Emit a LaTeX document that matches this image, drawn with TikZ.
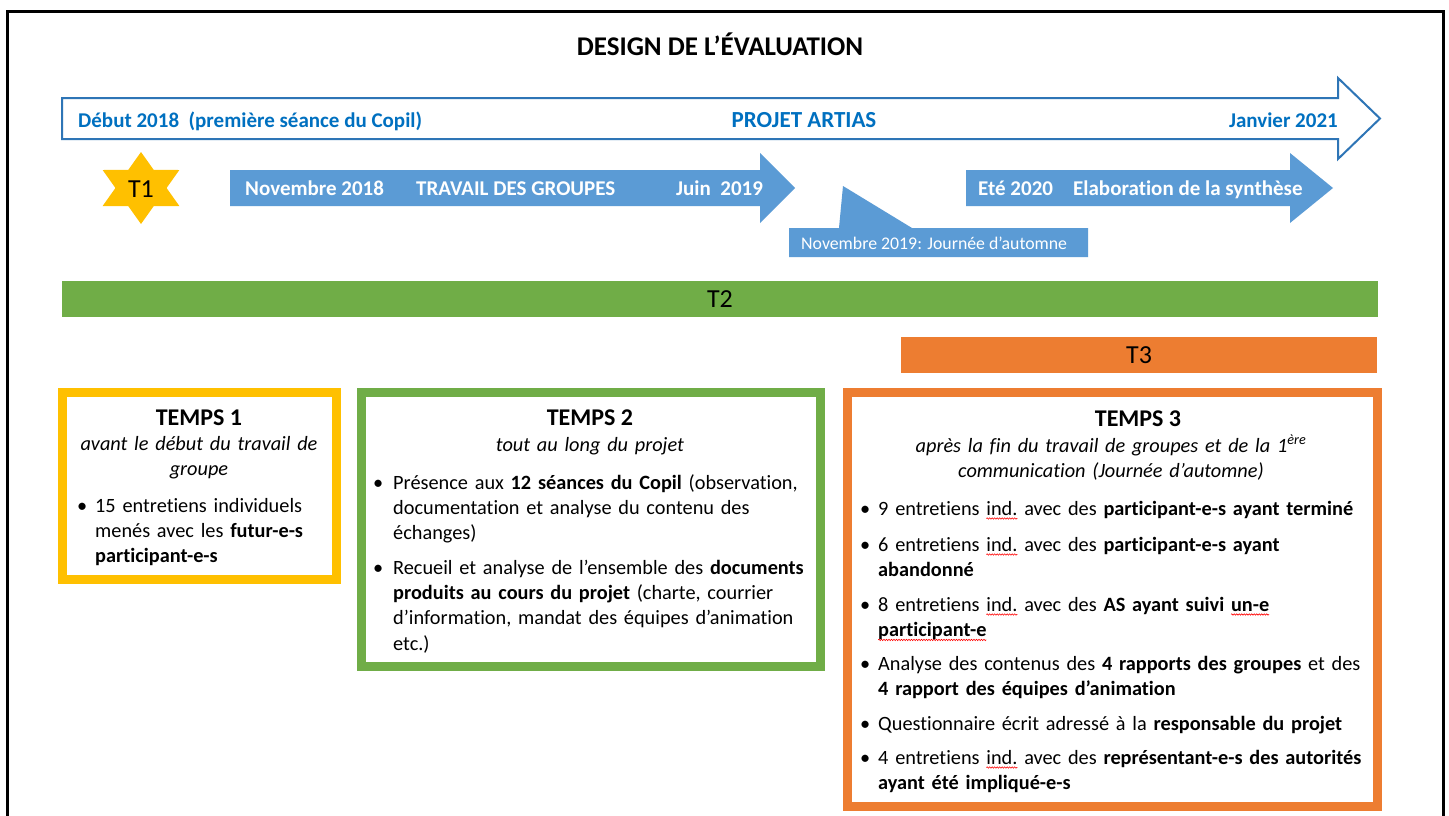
\documentclass[tikz,border=0pt]{standalone}
\usepackage{fontspec}
\setmainfont{Carlito}[Ligatures=NoCommon]
\usetikzlibrary{decorations.pathmorphing}
\definecolor{cblue}{HTML}{5B9BD5}
\definecolor{dblue}{HTML}{0070C0}
\definecolor{oblue}{HTML}{2E75B6}
\definecolor{cgold}{HTML}{FFC000}
\definecolor{cgreen}{HTML}{70AD47}
\definecolor{corange}{HTML}{ED7D31}
\newcommand\fs[2]{\fontsize{#1}{#2}\selectfont}
\newsavebox\splbox
\newcommand\spl[1]{\sbox\splbox{#1}\tikz[overlay, baseline=0pt]\draw[red, line width=0.6pt, decorate, decoration={snake, amplitude=0.7pt, segment length=2.5pt}] (0pt,-3.5pt) -- (\wd\splbox,-3.5pt);\usebox\splbox}
\begin{document}
\begin{tikzpicture}[x=1pt,y=-1pt,
  lbl/.style={inner sep=0pt, anchor=base west},
  ctr/.style={inner sep=0pt, anchor=base},
  body/.style={lbl, font=\fs{20.3}{25.4}, align=left, text width=540pt},
  bul/.style={lbl, font=\fs{20.3}{25.4}},
  ttl/.style={ctr, font=\bfseries\fs{24}{28}},
  sub/.style={ctr, font=\itshape\fs{20.3}{25.4}, align=center, text width=560pt},
  tlab/.style={inner sep=0pt, font=\fs{26}{30}},
  arrtxt/.style={lbl, white, font=\bfseries\fs{21}{25}},
  toptxt/.style={inner sep=0pt, dblue, font=\bfseries\fs{21}{25}},
  frame/.style={line width=9pt}
]
\useasboundingbox (0,0) rectangle (1449,816);
\fill[white] (0,0) rectangle (1449,816);
\draw[line width=3pt] (7.5,818) -- (7.5,11.5) -- (1443,11.5) -- (1443,818);

% title
\node[ctr, font=\bfseries\fs{27}{31}] (title) at (720,56) {DESIGN DE L’ÉVALUATION};

% big outline arrow
\draw[oblue, line width=2pt, fill=white, line join=miter]
  (62,98) -- (1338,98) -- (1338,78) -- (1380,118.5) -- (1338,159) -- (1338,139) -- (62,139) -- cycle;
\node[toptxt, anchor=base west] (debut) at (78,127) {Début 2018\ \ (première séance du Copil)};
\node[toptxt, anchor=base, font=\bfseries\fs{23}{27}] (artias) at (804,127) {PROJET ARTIAS};
\node[toptxt, anchor=base east] (janv) at (1338,127) {Janvier 2021};

% star T1
\begin{scope}[shift={(141,188)}, xscale=1.23]
\fill[cgold] (90:36) -- (60:20.8) -- (30:36) -- (0:20.8) -- (-30:36) -- (-60:20.8)
  -- (-90:36) -- (-120:20.8) -- (-150:36) -- (180:20.8) -- (150:36) -- (120:20.8) -- cycle;
\end{scope}
\node[tlab] (t1) at (141,189) {T1};

% blue arrow 1
\fill[cblue] (230,170) -- (760,170) -- (760,153) -- (795,188) -- (760,223) -- (760,206) -- (230,206) -- cycle;
\node[arrtxt] (nov18) at (245,195) {Novembre 2018};
\node[arrtxt] (trav) at (416,195) {TRAVAIL DES GROUPES};
\node[arrtxt] (juin) at (676,195) {Juin\ \ 2019};

% blue arrow 2
\fill[cblue] (966,170) -- (1290,170) -- (1290,153) -- (1333,188) -- (1290,223) -- (1290,206) -- (966,206) -- cycle;
\node[arrtxt] (ete) at (978,195) {Eté 2020};
\node[arrtxt] (elab) at (1073,195) {Elaboration de la synthèse};

% callout
\fill[cblue] (789,228) -- (839,228) -- (843,186) -- (912,228) -- (1088,228) -- (1088,257) -- (789,257) -- cycle;
\node[lbl, white, font=\fs{17.8}{21}] (nov19) at (801,249) {Novembre 2019: Journée d’automne};

% T2 / T3 bars
\fill[cgreen] (62,281) rectangle (1378,317);
\node[tlab] (t2) at (720,299) {T2};
\fill[corange] (901,337) rectangle (1377,373);
\node[tlab] (t3) at (1139,355) {T3};

% frames
\draw[cgold, frame] (62,392.5) rectangle (336,579.5);
\draw[cgreen, frame] (361.5,392.5) rectangle (820,666.5);
\draw[corange, frame] (847.5,392.5) rectangle (1377.5,806.5);

% box 1
\node[ttl] (temps1) at (199,425) {TEMPS 1};
\node[sub] (sub1) at (199,450) {avant le début du travail de\\ groupe};
\node[bul] (b11) at (77,512) {•};
\node[body] (i11) at (95,512) {15 entretiens individuels\\ menés avec les \textbf{futur-e-s}\\ \textbf{participant-e-s}};

% box 2
\node[ttl] (temps2) at (590,425) {TEMPS 2};
\node[sub] (sub2) at (590,451) {tout au long du projet};
\node[bul] (b21) at (373,489) {•};
\node[body] (i21) at (393,489) {Présence aux \textbf{12 séances du Copil} (observation,\\ documentation et analyse du contenu des\\ échanges)};
\node[bul] (b22) at (373,574) {•};
\node[body] (i22) at (393,574) {Recueil et analyse de l’ensemble des \textbf{documents}\\ \textbf{produits au cours du projet} (charte, courrier\\ d’information, mandat des équipes d’animation\\ etc.)};

% box 3
\node[ttl] (temps3) at (1138,426) {TEMPS 3};
\node[sub] (sub3) at (1111,452) {après la fin du travail de groupes et de la 1\textsuperscript{ère}\\ communication (Journée d’automne)};
\node[bul] (b31) at (860,515) {•};
\node[body] (i31) at (878,515) {9 entretiens \spl{ind.} avec des \textbf{participant-e-s ayant terminé}};
\node[bul] (b32) at (860,551) {•};
\node[body] (i32) at (878,551) {6 entretiens \spl{ind.} avec des \textbf{participant-e-s ayant}\\ \textbf{abandonné}};
\node[bul] (b33) at (860,611) {•};
\node[body] (i33) at (878,611) {8 entretiens \spl{ind.} avec des \textbf{AS ayant suivi \spl{un-e}}\\ \textbf{\spl{participant-e}}};
\node[bul] (b34) at (860,670) {•};
\node[body] (i34) at (878,670) {Analyse des contenus des \textbf{4 rapports des groupes} et des\\ \textbf{4 rapport des équipes d’animation}};
\node[bul] (b35) at (860,730) {•};
\node[body] (i35) at (878,730) {Questionnaire écrit adressé à la \textbf{responsable du projet}};
\node[bul] (b36) at (860,764) {•};
\node[body] (i36) at (878,764) {4 entretiens \spl{ind.} avec des \textbf{représentant-e-s des autorités}\\ \textbf{ayant été impliqué-e-s}};
\end{tikzpicture}
\end{document}
